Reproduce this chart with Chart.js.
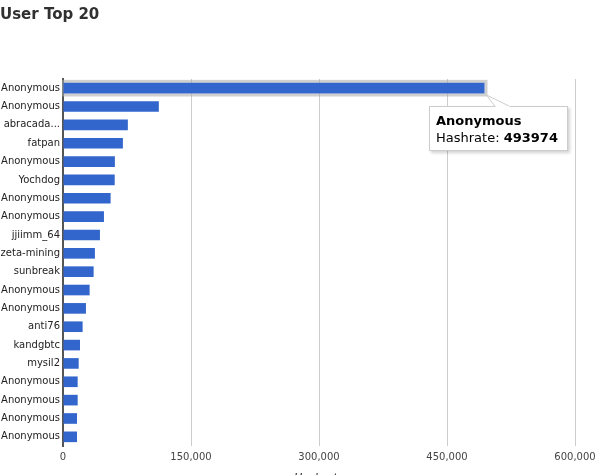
<!DOCTYPE html>
<html>
<head>
<meta charset="utf-8">
<script src="https://cdn.jsdelivr.net/npm/chart.js@4/dist/chart.umd.min.js"></script>
<style>
  html, body { margin: 0; padding: 0; background: #fff; overflow: hidden; }
  #wrap { width: 604px; height: 490px; }
</style>
</head>
<body>
<div id="wrap"><canvas id="c" width="604" height="490"></canvas></div>
<script>
const users = ['Anonymous','Anonymous','abracada...','fatpan','Anonymous','Yochdog','Anonymous','Anonymous','jjiimm_64','zeta-mining','sunbreak','Anonymous','Anonymous','anti76','kandgbtc','mysil2','Anonymous','Anonymous','Anonymous','Anonymous'];
const hashrates = [493974, 112300, 76000, 70200, 60800, 60600, 55800, 48000, 43300, 37400, 35900, 31200, 26900, 23000, 19900, 18400, 17200, 17200, 16400, 16400];
const xTickValues = [0, 150000, 300000, 450000, 600000];
const chartTitle = 'User Top 20';
const axisTitle = 'Hashrate';
const seriesName = 'Hashrate';
const highlighted = 0;

const FONT = 'DejaVu Sans, Verdana, sans-serif';

const overlay = {
  id: 'overlay',
  beforeDatasetsDraw(chart) {
    const el = chart.getDatasetMeta(0).data[highlighted];
    const ctx = chart.ctx;
    const p = el.getProps(['x','y','base','height'], true);
    ctx.save();
    ctx.strokeStyle = 'rgba(170,170,170,0.55)';
    ctx.lineWidth = 3;
    ctx.strokeRect(p.base, p.y - p.height/2 - 1.5, p.x - p.base + 1.5, p.height + 3);
    ctx.restore();
  },
  afterDraw(chart) {
    const el = chart.getDatasetMeta(0).data[highlighted];
    const ctx = chart.ctx;
    const p = el.getProps(['x','y','height'], true);
    const left = Math.round(p.x) - 56, top = Math.round(p.y) + 18;
    const w = 139, h = 45;
    ctx.save();
    // callout wedge
    ctx.beginPath();
    ctx.moveTo(p.x + 2, p.y + p.height/2 + 1.5);
    ctx.lineTo(left + 66, top + 0.5);
    ctx.lineTo(left + 81, top + 0.5);
    ctx.closePath();
    ctx.fillStyle = '#fff';
    ctx.fill();
    ctx.strokeStyle = '#cccccc';
    ctx.lineWidth = 1;
    ctx.stroke();
    // box with shadow
    ctx.shadowColor = 'rgba(0,0,0,0.18)';
    ctx.shadowOffsetX = 2;
    ctx.shadowOffsetY = 2;
    ctx.shadowBlur = 3;
    ctx.fillStyle = '#fff';
    ctx.fillRect(left, top, w, h);
    ctx.shadowColor = 'transparent';
    ctx.strokeStyle = '#cccccc';
    ctx.strokeRect(left + 0.5, top + 0.5, w - 1, h - 1);
    // erase seam of wedge
    ctx.beginPath();
    ctx.moveTo(left + 66.5, top + 0.5);
    ctx.lineTo(left + 80.5, top + 0.5);
    ctx.strokeStyle = '#fff';
    ctx.stroke();
    // text
    ctx.fillStyle = '#000';
    ctx.textBaseline = 'alphabetic';
    ctx.font = 'bold 13px ' + FONT;
    ctx.fillText(users[highlighted], left + 7, top + 18.5);
    ctx.font = '13px ' + FONT;
    const lab = seriesName + ': ';
    ctx.fillText(lab, left + 7, top + 35.5);
    const lw = ctx.measureText(lab).width;
    ctx.font = 'bold 13px ' + FONT;
    ctx.fillText(String(hashrates[highlighted]), left + 7 + lw, top + 35.5);
    ctx.restore();
  }
};

new Chart(document.getElementById('c'), {
  type: 'bar',
  data: {
    labels: users,
    datasets: [{
      label: seriesName,
      data: hashrates,
      backgroundColor: '#3366cc',
      borderWidth: 0,
      categoryPercentage: 1,
      barPercentage: 0.58
    }]
  },
  options: {
    indexAxis: 'y',
    responsive: false,
    animation: false,
    devicePixelRatio: 1,
    layout: { padding: { left: 0, right: 29, top: 0, bottom: 0 } },
    plugins: {
      legend: { display: false },
      tooltip: { enabled: false },
      title: {
        display: true,
        text: chartTitle,
        align: 'start',
        color: '#303030',
        font: { family: FONT, size: 15, weight: 'bold', lineHeight: 1.2 },
        padding: { top: 6, bottom: 55 }
      }
    },
    scales: {
      x: {
        type: 'linear',
        min: xTickValues[0],
        max: xTickValues[xTickValues.length - 1],
        afterBuildTicks(scale) { scale.ticks = xTickValues.map(v => ({ value: v })); },
        afterFit(scale) { scale.height = 44; },
        border: { display: false },
        grid: {
          drawTicks: false,
          color: (c) => c.index === 0 ? 'rgba(0,0,0,0)' : '#cccccc',
          lineWidth: 1
        },
        ticks: {
          padding: 5,
          color: '#444444',
          font: { family: FONT, size: 10 },
          maxRotation: 0
        },
        title: {
          display: true,
          text: axisTitle,
          color: '#222222',
          font: { family: FONT, size: 11, style: 'italic' },
          padding: { top: 2, bottom: 5 }
        }
      },
      y: {
        afterFit(scale) { scale.width = 63; },
        border: { display: true, color: '#555555', width: 2 },
        grid: { display: false, drawTicks: false },
        ticks: {
          padding: 3,
          color: '#222222',
          font: { family: FONT, size: 10 },
          autoSkip: false
        }
      }
    }
  },
  plugins: [overlay]
});
</script>
</body>
</html>
